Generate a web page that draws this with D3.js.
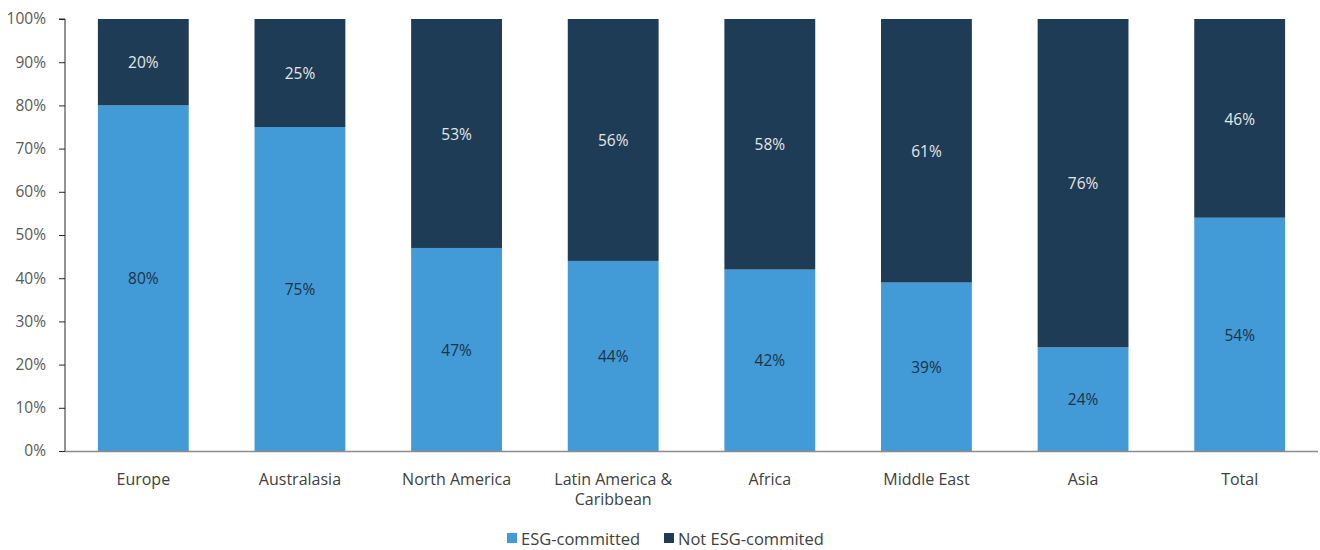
<!DOCTYPE html>
<html><head><meta charset="utf-8">
<script src="https://cdn.jsdelivr.net/npm/d3@7"></script>
<style>body{margin:0;background:#fff;}svg{display:block;font-family:"Open Sans","Noto Sans",sans-serif;}</style>
</head><body>
<svg id="chart" width="1320" height="550"></svg>
<script>
const categories = ["Europe","Australasia","North America","Latin America & Caribbean","Africa","Middle East","Asia","Total"];
const categoryLines = [["Europe"],["Australasia"],["North America"],["Latin America &","Caribbean"],["Africa"],["Middle East"],["Asia"],["Total"]];
const esgCommitted = [80,75,47,44,42,39,24,54];
const notEsgCommitted = [20,25,53,56,58,61,76,46];
const seriesNames = ["ESG-committed","Not ESG-commited"];
const seriesColors = ["#429bd6","#1e3c55"];
const labelColors = ["#1c3346","#e6e6e6"];
const yTicks = [0,10,20,30,40,50,60,70,80,90,100];

const svg = d3.select("#chart");
const margin = {left:65, right:1318, top:19, bottom:451};
const x = d3.scaleBand().domain(categories).range([margin.left, margin.right]).paddingInner(0.42).paddingOuter(0.21);
const y = d3.scaleLinear().domain([0,100]).range([margin.bottom, margin.top]);

const data = categories.map((c,i)=>({cat:c, "ESG-committed":esgCommitted[i], "Not ESG-commited":notEsgCommitted[i]}));
const stack = d3.stack().keys(seriesNames)(data);

stack.forEach((layer,si)=>{
  const g = svg.append("g");
  g.selectAll("rect").data(layer).join("rect")
    .attr("x", d=>x(d.data.cat)).attr("width", x.bandwidth())
    .attr("y", d=>y(d[1])).attr("height", d=>y(d[0])-y(d[1]))
    .attr("fill", seriesColors[si]);
  g.selectAll("text").data(layer).join("text")
    .attr("x", d=>x(d.data.cat)+x.bandwidth()/2)
    .attr("y", d=>(y(d[0])+y(d[1]))/2)
    .attr("dy","0.4em").attr("text-anchor","middle")
    .attr("font-size",15.5).attr("fill", labelColors[si])
    .text(d=>(d[1]-d[0])+"%");
});

// y axis
const yAxis = svg.append("g").attr("transform",`translate(${margin.left},0)`)
  .call(d3.axisLeft(y).tickValues(yTicks).tickFormat(d=>d+"%").tickSize(6).tickPadding(13));
yAxis.select(".domain").attr("stroke","#262626").attr("d",`M-6,${margin.top}H0V${margin.bottom}`);
yAxis.selectAll(".tick line").attr("stroke","#262626");
yAxis.selectAll(".tick text").attr("font-size",15.5).attr("fill","#595959").attr("font-family","'Open Sans','Noto Sans',sans-serif");

// x axis
svg.append("line").attr("x1",margin.left).attr("x2",margin.right).attr("y1",y(0)+0.5).attr("y2",y(0)+0.5).attr("stroke","#8c8c8c").attr("stroke-width",1.3);
categories.forEach((c,i)=>{
  const t = svg.append("text").attr("x", x(c)+x.bandwidth()/2).attr("y", 484.5)
    .attr("text-anchor","middle").attr("font-size",16).attr("fill","#404040");
  categoryLines[i].forEach((ln,j)=>t.append("tspan").attr("x", x(c)+x.bandwidth()/2).attr("dy", j?20:0).text(ln));
});

// legend
const legendX = [507, 664];
seriesNames.forEach((s,i)=>{
  svg.append("rect").attr("x",legendX[i]).attr("y",533).attr("width",10).attr("height",10).attr("fill",seriesColors[i]);
  svg.append("text").attr("x",legendX[i]+14).attr("y",544.5).attr("font-size",16.5).attr("fill","#404040").text(s);
});
</script>
</body></html>
